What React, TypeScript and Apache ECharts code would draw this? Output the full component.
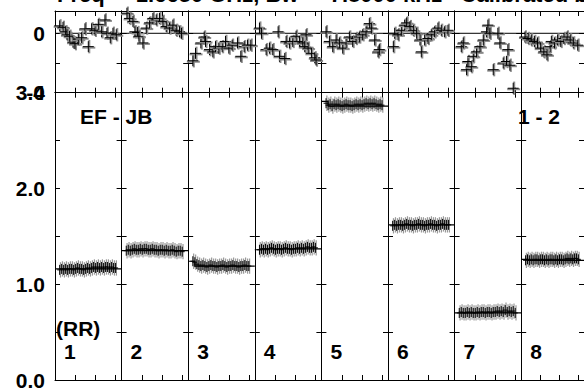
import React, { useEffect, useRef } from "react";
import * as echarts from "echarts";

// ---------- data ----------
const TITLE = "Freq =  1.6650 GHz, Bw =  7.8000 kHz   Calibrated be";
const BASELINE_LABEL = "EF - JB";
const IF_LABEL = "1 - 2";
const POL_LABEL = "(RR)";
const PANEL_LABELS = ["1", "2", "3", "4", "5", "6", "7", "8"];

const MAIN_Y_TICKS = [0, 0.5, 1.0, 1.5, 2.0, 2.5, 3.0];
const MAIN_Y_LABELS = [0, 1, 2, 3];
const TOP_Y_TICKS = [-4, -2, 0];
const TOP_Y_LABELS = [-4, 0];
const X_TICKS = [0.31, 0.61, 0.91];

// top row: phase-like residuals per panel
const TOP_TIMES = [
  [0.07, 0.12, 0.16, 0.18, 0.22, 0.27, 0.30, 0.35, 0.40, 0.45, 0.50, 0.55, 0.60, 0.65, 0.70, 0.75, 0.78, 0.83, 0.87, 0.92],
  [0.08, 0.12, 0.17, 0.20, 0.24, 0.26, 0.32, 0.37, 0.42, 0.47, 0.52, 0.57, 0.62, 0.67, 0.72, 0.77, 0.82, 0.87, 0.90],
  [0.07, 0.11, 0.19, 0.24, 0.26, 0.32, 0.37, 0.41, 0.46, 0.51, 0.56, 0.61, 0.66, 0.74, 0.79, 0.84, 0.89, 0.94],
  [0.07, 0.10, 0.17, 0.22, 0.27, 0.35, 0.37, 0.45, 0.47, 0.52, 0.57, 0.62, 0.67, 0.72, 0.75, 0.77, 0.80, 0.85, 0.90, 0.92],
  [0.07, 0.12, 0.17, 0.22, 0.27, 0.32, 0.37, 0.42, 0.47, 0.52, 0.57, 0.62, 0.67, 0.72, 0.75, 0.80, 0.85, 0.87],
  [0.08, 0.10, 0.15, 0.20, 0.25, 0.28, 0.33, 0.38, 0.43, 0.48, 0.50, 0.55, 0.60, 0.65, 0.70, 0.75, 0.80, 0.85, 0.90],
  [0.10, 0.13, 0.18, 0.20, 0.25, 0.28, 0.33, 0.38, 0.43, 0.48, 0.50, 0.53, 0.58, 0.65, 0.68, 0.73, 0.78, 0.80, 0.83, 0.88],
  [0.06, 0.11, 0.16, 0.21, 0.26, 0.31, 0.36, 0.41, 0.46, 0.48, 0.53, 0.58, 0.63, 0.68, 0.73, 0.78, 0.83, 0.90],
];
const TOP_PHASE = [
  [0.5, 0.4, 0.1, -0.1, -0.2, -0.6, -0.7, -0.4, -0.3, 0.3, -0.9, 0.3, 0.2, 0.6, 0.1, 0.9, 0.0, -0.3, 0.0, -0.1],
  [1.35, 1.0, 0.8, 0.1, 0.05, -0.2, -0.65, 0.35, 0.7, 1.0, 0.9, 1.0, 0.8, 0.45, 0.35, 0.55, 0.2, 0.1, 0.0],
  [-1.85, -1.35, -0.65, -0.25, -0.55, -1.1, -1.25, -0.9, -1.0, -0.9, -0.55, -1.0, -0.8, -0.65, -1.55, -0.9, -0.8, -0.8],
  [0.35, 0.0, -1.1, -1.0, -1.1, 0.1, -1.55, -1.7, -0.55, -0.65, -0.55, -0.2, -0.55, -0.65, -0.9, -0.1, -1.0, -1.35, -1.65, -1.8],
  [0.1, -0.55, -0.9, -0.45, -0.65, -1.0, -0.65, -0.25, -0.55, -0.35, -0.25, -0.1, 0.1, 0.65, 0.35, -0.45, -1.25, -1.1],
  [-0.9, 0.0, -0.1, 0.2, 0.55, 0.7, 0.45, 0.2, 0.0, -0.45, -1.25, -0.45, -0.35, -0.1, 0.1, 0.35, 0.2, 0.1, 0.2],
  [-0.9, -0.65, -2.45, -1.9, -2.25, -1.55, -1.25, -0.9, -0.45, 0.1, 0.55, 0.0, -2.45, 0.0, -0.65, -2.0, -1.9, -1.1, -2.15, -3.7],
  [-0.25, -0.35, -0.45, -0.55, -0.65, -1.0, -1.25, -1.45, -0.9, -0.55, -0.65, -0.45, -0.55, -0.35, -0.25, -0.45, -0.65, -0.8],
];
const TOP_ERR = 0.45;

// main row: amplitude per panel
const MAIN_TIMES = [0.07, 0.10, 0.13, 0.16, 0.19, 0.22, 0.25, 0.28, 0.31, 0.34, 0.37, 0.40, 0.43, 0.46, 0.49, 0.52, 0.55, 0.58, 0.61, 0.64, 0.67, 0.70, 0.73, 0.76, 0.79, 0.82, 0.85, 0.88, 0.91];
const MAIN_AMP = [
  [1.15, 1.16, 1.15, 1.16, 1.15, 1.16, 1.16, 1.15, 1.16, 1.17, 1.16, 1.16, 1.15, 1.16, 1.17, 1.16, 1.17, 1.18, 1.17, 1.18, 1.17, 1.18, 1.17, 1.18, 1.18, 1.17, 1.18, 1.17, 1.17],
  [1.35, 1.36, 1.35, 1.36, 1.37, 1.36, 1.36, 1.37, 1.36, 1.37, 1.37, 1.36, 1.36, 1.37, 1.36, 1.36, 1.35, 1.36, 1.36, 1.35, 1.36, 1.35, 1.35, 1.36, 1.35, 1.34, 1.35, 1.35, 1.34],
  [1.24, 1.23, 1.21, 1.20, 1.19, 1.20, 1.19, 1.18, 1.19, 1.20, 1.19, 1.19, 1.18, 1.19, 1.19, 1.20, 1.19, 1.18, 1.19, 1.19, 1.20, 1.19, 1.19, 1.18, 1.19, 1.19, 1.20, 1.19, 1.19],
  [1.36, 1.37, 1.36, 1.37, 1.36, 1.37, 1.38, 1.37, 1.36, 1.37, 1.37, 1.36, 1.37, 1.38, 1.37, 1.37, 1.36, 1.37, 1.37, 1.38, 1.37, 1.38, 1.37, 1.38, 1.39, 1.38, 1.38, 1.39, 1.38],
  [2.89, 2.87, 2.88, 2.86, 2.88, 2.87, 2.88, 2.87, 2.86, 2.87, 2.88, 2.87, 2.87, 2.86, 2.87, 2.88, 2.87, 2.88, 2.87, 2.88, 2.89, 2.88, 2.89, 2.88, 2.89, 2.88, 2.87, 2.88, 2.87],
  [1.61, 1.62, 1.61, 1.62, 1.62, 1.61, 1.62, 1.63, 1.62, 1.62, 1.61, 1.62, 1.62, 1.63, 1.62, 1.62, 1.61, 1.62, 1.62, 1.63, 1.62, 1.62, 1.61, 1.62, 1.62, 1.63, 1.62, 1.62, 1.62],
  [0.70, 0.71, 0.70, 0.70, 0.71, 0.70, 0.71, 0.70, 0.70, 0.71, 0.70, 0.71, 0.71, 0.70, 0.71, 0.71, 0.70, 0.71, 0.71, 0.72, 0.71, 0.72, 0.71, 0.73, 0.71, 0.72, 0.71, 0.72, 0.70],
  [1.25, 1.26, 1.25, 1.26, 1.25, 1.26, 1.26, 1.25, 1.26, 1.26, 1.25, 1.26, 1.25, 1.26, 1.26, 1.25, 1.26, 1.25, 1.26, 1.26, 1.25, 1.26, 1.27, 1.26, 1.27, 1.26, 1.27, 1.27, 1.26],
];
const MAIN_ERR = 0.08;
// model level: initial level (up to MODEL_STEP_T) and then main level
const MODEL_START = [1.16, 1.35, 1.24, 1.36, 2.91, 1.62, 0.70, 1.26];
const MODEL_LEVEL = [1.16, 1.35, 1.19, 1.37, 2.86, 1.62, 0.70, 1.25];
const MODEL_STEP_T = 0.1;

// ---------- layout ----------
const X0 = 55;
const PW = 66.6;
const TOP_Y = 11;
const TOP_H = 81.7;
const MAIN_Y = 92.7;
const MAIN_H = 287.3;
const FONT = "'Liberation Sans', Arial, Helvetica, sans-serif";
const FS = 21;

function buildOption() {
  const grids: any[] = [];
  const xAxes: any[] = [];
  const yAxes: any[] = [];
  const series: any[] = [];
  const line = { color: "#000", width: 1 };

  for (let r = 0; r < 2; r++) {
    for (let c = 0; c < 8; c++) {
      const g = r * 8 + c;
      const isTop = r === 0;
      grids.push({
        left: X0 + c * PW,
        width: PW,
        top: isTop ? TOP_Y : MAIN_Y,
        height: isTop ? TOP_H : MAIN_H,
      });
      for (const pos of ["bottom", "top"]) {
        xAxes.push({
          gridIndex: g,
          type: "value",
          min: 0,
          max: 1,
          position: pos,
          axisLine: { show: true, onZero: false, lineStyle: line },
          axisTick: { show: true, inside: true, length: 5, customValues: X_TICKS, lineStyle: line },
          axisLabel: { show: false },
          splitLine: { show: false },
        });
      }
      for (const pos of ["left", "right"]) {
        const showLabel = c === 0 && pos === "left";
        yAxes.push({
          gridIndex: g,
          type: "value",
          min: isTop ? -4 : 0,
          max: isTop ? 1.5 : 3,
          position: pos,
          axisLine: { show: true, onZero: false, lineStyle: line },
          axisTick: {
            show: true,
            inside: true,
            length: 5,
            customValues: isTop ? TOP_Y_TICKS : MAIN_Y_TICKS,
            lineStyle: line,
          },
          axisLabel: {
            show: showLabel,
            customValues: isTop ? TOP_Y_LABELS : MAIN_Y_LABELS,
            formatter: (v: number) => (isTop ? String(v) : v.toFixed(1)),
            fontFamily: FONT,
            fontWeight: "bold",
            fontSize: FS,
            color: "#000",
            margin: 10,
          },
          splitLine: { show: false },
        });
      }

      if (isTop) {
        series.push({
          type: "line",
          xAxisIndex: 2 * g,
          yAxisIndex: 2 * g,
          data: [[0, 0], [1, 0]],
          symbol: "none",
          lineStyle: { color: "#000", width: 1 },
          silent: true,
          z: 3,
        });
        const data = TOP_TIMES[c].map((t, i) => [t, TOP_PHASE[c][i], TOP_ERR]);
        series.push({
          type: "custom",
          xAxisIndex: 2 * g,
          yAxisIndex: 2 * g,
          data,
          silent: true,
          z: 4,
          renderItem: (params: any, api: any) => {
            const t = api.value(0);
            const v = api.value(1);
            const e = api.value(2);
            const p = api.coord([t, v]);
            const yt = api.coord([t, v + e])[1];
            const yb = api.coord([t, v - e])[1];
            const gray = { stroke: "#8c8c8c", lineWidth: 2 };
            const blk = { stroke: "#000", lineWidth: 1 };
            return {
              type: "group",
              children: [
                { type: "line", shape: { x1: p[0] + 1, y1: yt, x2: p[0] + 1, y2: yb }, style: gray },
                { type: "line", shape: { x1: p[0] - 6, y1: p[1] + 1, x2: p[0] + 7, y2: p[1] + 1 }, style: gray },
                { type: "line", shape: { x1: p[0], y1: p[1] - 5.5, x2: p[0], y2: p[1] + 5.5 }, style: blk },
                { type: "line", shape: { x1: p[0] - 5.5, y1: p[1], x2: p[0] + 5.5, y2: p[1] }, style: blk },
              ],
            };
          },
        });
      } else {
        series.push({
          type: "line",
          xAxisIndex: 2 * g,
          yAxisIndex: 2 * g,
          data: [
            [0, MODEL_START[c]],
            [MODEL_STEP_T, MODEL_START[c]],
            [MODEL_STEP_T, MODEL_LEVEL[c]],
            [1, MODEL_LEVEL[c]],
          ],
          symbol: "none",
          lineStyle: { color: "#000", width: 1.2 },
          silent: true,
          z: 5,
        });
        const data = MAIN_TIMES.map((t, i) => [t, MAIN_AMP[c][i], MAIN_ERR]);
        series.push({
          type: "custom",
          xAxisIndex: 2 * g,
          yAxisIndex: 2 * g,
          data,
          silent: true,
          z: 4,
          renderItem: (params: any, api: any) => {
            const t = api.value(0);
            const v = api.value(1);
            const e = api.value(2);
            const p = api.coord([t, v]);
            const yt = api.coord([t, v + e])[1];
            const yb = api.coord([t, v - e])[1];
            const gray = { stroke: "#999999", lineWidth: 1.2 };
            const blk = { stroke: "#000", lineWidth: 1 };
            return {
              type: "group",
              children: [
                { type: "line", shape: { x1: p[0] + 0.8, y1: yt, x2: p[0] + 0.8, y2: yb }, style: gray },
                { type: "line", shape: { x1: p[0], y1: p[1] - 5, x2: p[0], y2: p[1] + 5 }, style: blk },
                { type: "line", shape: { x1: p[0] - 2.5, y1: p[1], x2: p[0] + 2.5, y2: p[1] }, style: blk },
              ],
            };
          },
        });
      }
    }
  }

  const txt = (text: string, x: number, y: number, size = FS) => ({
    type: "text",
    x,
    y,
    z: 10,
    silent: true,
    style: {
      text,
      fill: "#000",
      fontFamily: FONT,
      fontWeight: "bold",
      fontSize: size,
      align: "left",
      verticalAlign: "middle",
    },
  });

  const graphics: any[] = [
    txt(TITLE, 57, -6, 22),
    txt(BASELINE_LABEL, 80, 116),
    txt(IF_LABEL, 518, 116),
    txt(POL_LABEL, 56, 328),
  ];
  PANEL_LABELS.forEach((l, c) => {
    graphics.push(txt(l, X0 + c * PW + 9, 351));
  });

  return {
    animation: false,
    backgroundColor: "#fff",
    grid: grids,
    xAxis: xAxes,
    yAxis: yAxes,
    series,
    graphic: graphics,
  };
}

export default function App() {
  const ref = useRef<HTMLDivElement>(null);
  useEffect(() => {
    if (!ref.current) return;
    const chart = echarts.init(ref.current, undefined, { renderer: "svg" });
    chart.setOption(buildOption() as any);
    return () => chart.dispose();
  }, []);
  return (
    <div
      ref={ref}
      style={{ position: "absolute", left: 0, top: 0, width: 584, height: 391, background: "#fff" }}
    />
  );
}
